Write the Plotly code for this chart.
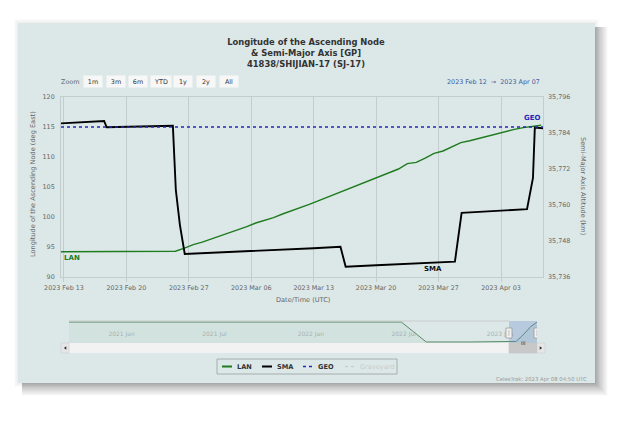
import plotly.graph_objects as go
import pandas as pd

# ---- data ----
X_START = "2023-02-12 16:00"
X_END = "2023-04-07 17:00"

WEEK_TICKS = ["2023-02-13", "2023-02-20", "2023-02-27", "2023-03-06",
              "2023-03-13", "2023-03-20", "2023-03-27", "2023-04-03"]

# longitude of the ascending node (deg East), one value per day, noon
LAN_DATES = pd.date_range("2023-02-12 12:00", periods=55, freq="D")
LAN = [94.2, 94.2, 94.2, 94.2, 94.2, 94.2, 94.2, 94.2, 94.2, 94.2, 94.2, 94.2, 94.2,
       94.3, 94.8, 95.4, 95.8,
       96.3, 96.8, 97.3, 97.9, 98.4, 99.0, 99.4, 99.9, 100.5, 101.0, 101.5, 102.1,
       102.7, 103.3, 103.9, 104.4, 105.0, 105.6, 106.3, 106.9, 107.4, 108.0, 108.9,
       109.1, 109.8, 110.6, 111.0, 111.7, 112.4, 112.7, 113.1,
       113.5, 113.9, 114.2, 114.6, 114.9, 115.1, 115.3]

# semi-major axis altitude (km)
SMA_DATES = ["2023-02-12 16:00", "2023-02-14 00:00", "2023-02-16 00:00", "2023-02-17 12:00",
             "2023-02-17 19:00", "2023-02-19 00:00", "2023-02-21 00:00", "2023-02-23 00:00",
             "2023-02-25 05:00", "2023-02-25 13:00", "2023-02-26 00:00", "2023-02-26 13:00",
             "2023-03-01 00:00", "2023-03-05 00:00", "2023-03-09 00:00", "2023-03-13 00:00",
             "2023-03-16 00:00", "2023-03-16 14:00", "2023-03-20 00:00", "2023-03-24 00:00",
             "2023-03-28 20:00", "2023-03-29 14:00", "2023-04-01 00:00", "2023-04-03 12:00",
             "2023-04-05 22:00", "2023-04-06 14:00", "2023-04-06 19:00", "2023-04-07 17:00"]
SMA = [35787.2, 35787.4, 35787.7, 35788.0,
       35785.9, 35786.0, 35786.1, 35786.3,
       35786.4, 35765.0, 35753.3, 35743.7,
       35744.0, 35744.5, 35745.0, 35745.6,
       35746.1, 35739.4, 35739.9, 35740.5,
       35741.1, 35757.4, 35757.8, 35758.2,
       35758.6, 35769.0, 35785.8, 35785.6]

GEO_KM = 35786

# navigator history of LAN before the zoomed window
NAV_START = "2020-10-17"
NAV_HIST_DATES = ["2020-10-17", "2021-04-01", "2021-10-01", "2022-04-01",
                  "2022-07-20", "2022-08-13", "2022-09-06", "2022-12-01", "2023-01-20"]
NAV_HIST = [115.5, 115.5, 115.5, 115.5, 115.5, 104.9, 94.2, 94.2, 94.2]
NAV_TICKS = ["2021-01-01", "2021-07-01", "2022-01-01", "2022-07-01", "2023-01-01"]

BUTTONS = ["1m", "3m", "6m", "YTD", "1y", "2y", "All"]
LEGEND = [("LAN", "#1e7b1e", "solid"), ("SMA", "#000000", "solid"),
          ("GEO", "#2626b8", "dot"), ("Graveyard", "#c8d0d0", "dot")]

# ---- layout helpers (page pixel -> paper) ----
OFF = 8                      # page body margin around the figure
W, H = 637 - OFF, 421 - OFF
PL, PR, PT, PB = 61, 543, 97, 343   # plot region on the page
L, T = PL - OFF, PT - OFF
R, B = W - (PR - OFF), H - (PB - OFF)


def px(x):
    return (x - PL) / (PR - PL)


def py(y):
    return (PB - y) / (PB - PT)


FONT = "DejaVu Sans"
PANEL = "#dce8e8"
GRID = "#c3cdcd"

fig = go.Figure()

fig.add_trace(go.Scatter(x=LAN_DATES, y=LAN, name="LAN", mode="lines",
                         line=dict(color="#1e7b1e", width=1.4), xaxis="x", yaxis="y"))
fig.add_trace(go.Scatter(x=SMA_DATES, y=SMA, name="SMA", mode="lines",
                         line=dict(color="#000000", width=1.9), xaxis="x", yaxis="y2"))
fig.add_trace(go.Scatter(x=[X_START, X_END], y=[GEO_KM, GEO_KM], name="GEO", mode="lines",
                         line=dict(color="#2626b8", width=1.5, dash="dot"),
                         xaxis="x", yaxis="y2"))

nav_x = list(pd.to_datetime(NAV_HIST_DATES)) + list(LAN_DATES)
nav_y = NAV_HIST + LAN
fig.add_trace(go.Scatter(x=nav_x, y=nav_y, name="nav", mode="lines", fill="tozeroy",
                         fillcolor="rgba(40,140,60,0.05)",
                         line=dict(color="#5b8a68", width=1), xaxis="x2", yaxis="y3"))

shapes = []
# panel with soft drop shadow, heavier to the right and below
for d in [1, 2, 3, 4]:
    shapes.append(dict(type="rect", xref="paper", yref="paper", layer="below",
                       x0=px(18 - d), x1=px(595 + d), y0=py(383 + d), y1=py(23 - d),
                       fillcolor="rgba(0,0,0,0.015)", line=dict(width=0)))
for d in range(1, 17):
    shapes.append(dict(type="rect", xref="paper", yref="paper", layer="below",
                       x0=px(22), x1=px(595 + d * 0.8), y0=py(383 + d * 0.8), y1=py(27),
                       fillcolor="rgba(0,0,0,0.02)", line=dict(width=0)))
shapes.append(dict(type="rect", xref="paper", yref="paper", layer="below",
                   x0=px(18), x1=px(595), y0=py(383), y1=py(23),
                   fillcolor=PANEL, line=dict(width=0)))

# navigator: top outline, selection mask, handles
shapes.append(dict(type="line", xref="x2", yref="y3 domain", x0=NAV_START, x1=X_START,
                   y0=1, y1=1, line=dict(color="#c8cccc", width=1)))
shapes.append(dict(type="rect", xref="x2", yref="y3 domain", x0=X_START, x1=X_END,
                   y0=0, y1=1, fillcolor="rgba(102,133,194,0.3)", line=dict(width=0)))
# scrollbar track, arrows and thumb
shapes.append(dict(type="rect", xref="paper", yref="paper", x0=px(69), x1=px(537),
                   y0=py(353), y1=py(343), fillcolor="#f2f2f2", line=dict(width=0)))
for a0, a1 in [(61, 69), (537, 545)]:
    shapes.append(dict(type="rect", xref="paper", yref="paper", x0=px(a0), x1=px(a1),
                       y0=py(353), y1=py(343), fillcolor="#e6e6e6",
                       line=dict(color="#cccccc", width=0.6)))
shapes.append(dict(type="path", xref="paper", yref="paper", fillcolor="#333333",
                   line=dict(width=0),
                   path=f"M{px(66.3)},{py(346.3)} L{px(66.3)},{py(349.7)} L{px(63.8)},{py(348)} Z"))
shapes.append(dict(type="path", xref="paper", yref="paper", fillcolor="#333333",
                   line=dict(width=0),
                   path=f"M{px(539.7)},{py(346.3)} L{px(539.7)},{py(349.7)} L{px(542.2)},{py(348)} Z"))
shapes.append(dict(type="rect", xref="x2", yref="paper", x0=X_START, x1=X_END,
                   y0=py(353), y1=py(343), fillcolor="#c8c8c8", line=dict(color="#c8c8c8", width=0.6)))
for anchor in [X_START, X_END]:
    shapes.append(dict(type="rect", xref="x2", yref="paper", xsizemode="pixel", xanchor=anchor,
                       x0=-3, x1=3, y0=py(338), y1=py(328), fillcolor="#f2f2f2",
                       line=dict(color="#999999", width=0.8)))
    shapes.append(dict(type="line", xref="x2", yref="paper", xsizemode="pixel", xanchor=anchor,
                       x0=0, x1=0, y0=py(336), y1=py(330), line=dict(color="#999999", width=0.6)))

# legend box and samples
shapes.append(dict(type="rect", xref="paper", yref="paper", x0=px(217), x1=px(397),
                   y0=py(374), y1=py(359), line=dict(color="#9aa0a0", width=0.8)))
legend_x = [222, 262, 303, 345]
annotations = []
for (name, color, dash), lx in zip(LEGEND, legend_x):
    shapes.append(dict(type="line", xref="paper", yref="paper", x0=px(lx), x1=px(lx + 10),
                       y0=py(366.5), y1=py(366.5),
                       line=dict(color=color, width=2 if dash == "solid" else 1.5, dash=dash)))
    annotations.append(dict(xref="paper", yref="paper", x=px(lx + 13), y=py(366.5),
                            xanchor="left", yanchor="middle", showarrow=False,
                            text=f"<b>{name}</b>" if name != "Graveyard" else name,
                            font=dict(size=6.6, color="#333333" if name != "Graveyard" else "#c4cccc")))


def note(text, x, y, size=6.4, color="#666666", xanchor="center", **kw):
    annotations.append(dict(xref="paper", yref="paper", x=px(x), y=py(y), text=text,
                            xanchor=xanchor, yanchor="middle", showarrow=False,
                            font=dict(size=size, color=color, family=FONT), **kw))


# range selector look-alike
note("Zoom", 70, 82)
for i, b in enumerate(BUTTONS):
    note(b, 93 + i * 22.6, 82, color="#333333", width=20 if b == "YTD" else 18, height=11,
         bgcolor="#f7f7f7", borderpad=0)
date_text = (pd.Timestamp(X_START).strftime("%Y %b %d") + "  \u2192  "
             + pd.Timestamp(X_END).strftime("%Y %b %d"))
note(date_text, 542, 82, color="#3d5aa0", xanchor="right")

# axis titles
note("Longitude of the Ascending Node (deg East)", 33, 184, size=6.6, textangle=-90)
note("Semi-Major Axis Altitude (km)", 583, 186, size=6.6, textangle=90)
note("Date/Time (UTC)", 303, 300, size=6.6)

# series labels
note("<b>LAN</b>", 62, 258, size=7, color="#1e7b1e", xanchor="left")
note("<b>SMA</b>", 433, 269, size=7, color="#111111")
note("<b>GEO</b>", 532, 118, size=7, color="#2626b8")

# thumb grip and credits
grip_x = pd.Timestamp(X_START) + (pd.Timestamp(X_END) - pd.Timestamp(X_START)) / 2
annotations.append(dict(xref="x2", yref="paper", x=grip_x, y=py(348.3), text="III",
                        showarrow=False, font=dict(size=5, color="#333333", family=FONT)))
note("CelesTrak: 2023 Apr 08 04:50 UTC", 589, 379, size=5.3, color="#999999", xanchor="right")

tickfont = dict(size=6.4, color="#666666", family=FONT)
fig.update_layout(
    width=W, height=H,
    margin=dict(l=L, r=R, t=T, b=B),
    paper_bgcolor="white",
    plot_bgcolor="rgba(0,0,0,0)",
    font=dict(family=FONT, color="#333333"),
    showlegend=False,
    title=dict(text="<b>Longitude of the Ascending Node<br>& Semi-Major Axis [GP]<br>"
                    "41838/SHIJIAN-17 (SJ-17)</b>",
               x=(306 - OFF) / W, xanchor="center", xref="container",
               y=1 - (45 - OFF) / H, yanchor="middle", yref="container",
               font=dict(size=8.4, color="#333333", family=FONT)),
    xaxis=dict(domain=[0, 1], anchor="y", range=[X_START, X_END], tickvals=WEEK_TICKS,
               tickformat="%Y %b %d", tickfont=tickfont, showgrid=True, gridcolor=GRID,
               gridwidth=1, showline=True, linecolor=GRID, mirror=True, ticks="outside",
               ticklen=4, tickcolor=GRID, zeroline=False),
    yaxis=dict(domain=[py(277), 1], anchor="x", range=[90, 120], dtick=5, tick0=90,
               tickfont=tickfont, showgrid=False, zeroline=False, showline=True,
               linecolor=GRID, mirror=True, ticks="", ticklabelstandoff=4),
    yaxis2=dict(overlaying="y", side="right", anchor="x", range=[35736, 35796],
                tick0=35736, dtick=12, tickformat=",d", tickfont=tickfont, showgrid=False,
                zeroline=False, ticks="", ticklabelstandoff=4),
    xaxis2=dict(domain=[px(69), px(537)], anchor="y3", range=[NAV_START, X_END],
                tickvals=NAV_TICKS, tickformat="%Y %b", ticklabelposition="inside right",
                tickfont=dict(size=6, color="#a8b0b0", family=FONT), showgrid=False,
                showline=False, ticks="", zeroline=False),
    yaxis3=dict(domain=[0, py(321)], anchor="x2", range=[93.1, 116.6], visible=False),
    shapes=shapes,
    annotations=annotations,
)

fig.write_html("out.html")
